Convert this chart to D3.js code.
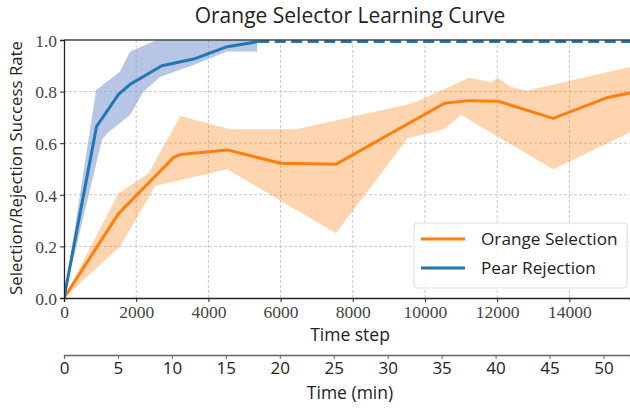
<!DOCTYPE html>
<html>
<head>
<meta charset="utf-8">
<script src="https://cdn.jsdelivr.net/npm/d3@7"></script>
<style>
  body { margin: 0; background: #fff; }
  svg { display: block; }
</style>
</head>
<body>
<div id="canvas"></div>
<script>
// --- data ---
var pearSteps = [0, 900, 1510, 1830, 2710, 3590, 4520, 5380]
var pearMean = [0, 0.664, 0.789, 0.828, 0.900, 0.926, 0.974, 0.994]
var pearUpperSteps = [0, 890, 1550, 1830, 2570, 5350]
var pearUpper = [0, 0.806, 0.877, 0.955, 1.0, 1.0]
var pearLowerSteps = [0, 1050, 1190, 1830, 2200, 2670, 3590, 4520, 5350]
var pearLower = [0, 0.612, 0.638, 0.709, 0.800, 0.858, 0.903, 0.955, 0.955]
var pearDoneSteps = [5380, 15750]
var pearDone = [0.994, 0.994]

var orangeSteps = [0, 1510, 3040, 3220, 4520, 6000, 7530, 10540, 11230, 12020, 13550, 15030, 15750]
var orangeMean = [0, 0.327, 0.545, 0.556, 0.574, 0.522, 0.518, 0.755, 0.765, 0.763, 0.696, 0.776, 0.797]
var orangeUpperSteps = [0, 1510, 2340, 3220, 4610, 6420, 7390, 9660, 11230, 11830, 12020, 12390, 12850, 15750]
var orangeUpper = [0, 0.406, 0.483, 0.705, 0.654, 0.654, 0.683, 0.755, 0.854, 0.836, 0.854, 0.817, 0.804, 0.898]
var orangeLowerSteps = [0, 1550, 2530, 4520, 7530, 9520, 10540, 11000, 13550, 15750]
var orangeLower = [0, 0.199, 0.434, 0.499, 0.251, 0.619, 0.654, 0.709, 0.499, 0.646]

var stepTicks = [0, 2000, 4000, 6000, 8000, 10000, 12000, 14000]
var rateTicks = [0, 0.2, 0.4, 0.6, 0.8, 1.0]
var minuteTicks = [0, 5, 10, 15, 20, 25, 30, 35, 40, 45, 50]
var seriesNames = ['Orange Selection', 'Pear Rejection']

var WIDTH = 630
var HEIGHT = 408
var LEFT = 64
var RIGHT = 630
var TOP = 40
var BOTTOM = 298
var MIN_AXIS_Y = 355

var BLUE = '#1f77b4'
var ORANGE = '#ff7f0e'
var SERIF = '"Liberation Serif", "Times New Roman", serif'
var SANS = '"Open Sans", Lato, sans-serif'

var svg = d3.select('#canvas').append('svg')
  .attr('width', WIDTH)
  .attr('height', HEIGHT)

var x = d3.scaleLinear().domain([0, 15680]).range([LEFT, RIGHT])
var y = d3.scaleLinear().domain([0, 1]).range([BOTTOM, TOP])
var xMin = d3.scaleLinear().domain([0, 52.46]).range([LEFT, RIGHT])

svg.append('defs').append('clipPath').attr('id', 'clip')
  .append('rect')
  .attr('x', LEFT).attr('y', TOP - 4)
  .attr('width', RIGHT - LEFT).attr('height', BOTTOM - TOP + 4)

// grid
var grid = svg.append('g')
grid.selectAll('line.vx').data(stepTicks.slice(1)).enter().append('line')
  .attr('x1', function (d) { return x(d) }).attr('x2', function (d) { return x(d) })
  .attr('y1', TOP).attr('y2', BOTTOM)
grid.selectAll('line.hy').data(rateTicks.slice(1, -1)).enter().append('line')
  .attr('x1', LEFT).attr('x2', RIGHT)
  .attr('y1', function (d) { return y(d) }).attr('y2', function (d) { return y(d) })
grid.selectAll('line')
  .attr('stroke', '#c8c8c8')
  .attr('stroke-width', 1)
  .attr('stroke-dasharray', '3,2')

var pts = function (xs, ys) {
  return xs.map(function (v, i) { return [v, ys[i]] })
}
var line = d3.line().x(function (d) { return x(d[0]) }).y(function (d) { return y(d[1]) })

var band = function (upX, up, loX, lo) {
  return pts(upX, up).concat(pts(loX, lo).reverse())
}

var plot = svg.append('g').attr('clip-path', 'url(#clip)')

plot.append('path')
  .attr('d', line(band(orangeUpperSteps, orangeUpper, orangeLowerSteps, orangeLower)) + 'Z')
  .attr('fill', ORANGE).attr('fill-opacity', 0.33).attr('stroke', 'none')
plot.append('path')
  .attr('d', line(band(pearUpperSteps, pearUpper, pearLowerSteps, pearLower)) + 'Z')
  .attr('fill', '#7b98cf').attr('fill-opacity', 0.55).attr('stroke', 'none')

plot.append('path')
  .attr('d', line(pts(orangeSteps, orangeMean)))
  .attr('fill', 'none').attr('stroke', ORANGE).attr('stroke-width', 3)
  .attr('stroke-linejoin', 'round')
plot.append('path')
  .attr('d', line(pts(pearSteps, pearMean)))
  .attr('fill', 'none').attr('stroke', BLUE).attr('stroke-width', 3)
  .attr('stroke-linejoin', 'round')
plot.append('path')
  .attr('d', line(pts(pearDoneSteps, pearDone)))
  .attr('fill', 'none').attr('stroke', BLUE).attr('stroke-width', 3)
  .attr('stroke-dasharray', '11,5.5')

// top spine
svg.append('line').attr('x1', LEFT).attr('x2', RIGHT).attr('y1', TOP).attr('y2', TOP)
  .attr('stroke', '#444').attr('stroke-width', 1.3)

// axes
var xAxis = svg.append('g')
  .attr('transform', 'translate(0,' + BOTTOM + ')')
  .call(d3.axisBottom(x).tickValues(stepTicks).tickFormat(d3.format('d')).tickSizeOuter(0).tickSize(4).tickPadding(4))
var yAxis = svg.append('g')
  .attr('transform', 'translate(' + LEFT + ',0)')
  .call(d3.axisLeft(y).tickValues(rateTicks).tickFormat(d3.format('.1f')).tickSizeOuter(0).tickSize(4).tickPadding(3))
var minAxis = svg.append('g')
  .attr('transform', 'translate(0,' + MIN_AXIS_Y + ')')
  .call(d3.axisBottom(xMin).tickValues(minuteTicks).tickSizeOuter(0).tickSize(4).tickPadding(3))

;[xAxis, yAxis].forEach(function (a) {
  a.select('.domain').attr('stroke', '#222').attr('stroke-width', 1.3)
  a.selectAll('.tick line').attr('stroke', '#222')
  a.selectAll('text').attr('font-family', SERIF).attr('font-size', 17.5).attr('fill', '#444')
})
yAxis.selectAll('text').attr('dy', '0.36em')
minAxis.select('.domain').attr('stroke', '#666').attr('stroke-width', 1.3)
minAxis.selectAll('.tick line').attr('stroke', '#666')
minAxis.selectAll('text').attr('font-family', SANS).attr('font-size', 17).attr('fill', '#222')

// labels
svg.append('text')
  .attr('x', 350).attr('y', 23)
  .attr('text-anchor', 'middle')
  .attr('font-family', SANS).attr('font-size', 21).attr('fill', '#222')
  .text('Orange Selector Learning Curve')
svg.append('text')
  .attr('x', 350).attr('y', 341)
  .attr('text-anchor', 'middle')
  .attr('font-family', SANS).attr('font-size', 17.5).attr('fill', '#222')
  .text('Time step')
svg.append('text')
  .attr('x', 350).attr('y', 399)
  .attr('text-anchor', 'middle')
  .attr('font-family', SANS).attr('font-size', 17.5).attr('fill', '#222')
  .text('Time (min)')
svg.append('text')
  .attr('transform', 'translate(22,' + 168 + ') rotate(-90)')
  .attr('text-anchor', 'middle')
  .attr('font-family', SANS).attr('font-size', 16.8).attr('fill', '#222')
  .text('Selection/Rejection Success Rate')

// legend
var legend = svg.append('g').attr('transform', 'translate(414,223)')
legend.append('rect')
  .attr('width', 213).attr('height', 65).attr('rx', 3)
  .attr('fill', '#fff').attr('fill-opacity', 0.85)
  .attr('stroke', '#ddd')
var legendColors = [ORANGE, BLUE]
seriesNames.forEach(function (name, i) {
  var ly = 16 + i * 29
  legend.append('line')
    .attr('x1', 7).attr('x2', 51).attr('y1', ly).attr('y2', ly)
    .attr('stroke', legendColors[i]).attr('stroke-width', 3)
  legend.append('text')
    .attr('x', 67).attr('y', ly + 6)
    .attr('font-family', SANS).attr('font-size', 17.2).attr('fill', '#222')
    .text(name)
})
</script>
</body>
</html>
